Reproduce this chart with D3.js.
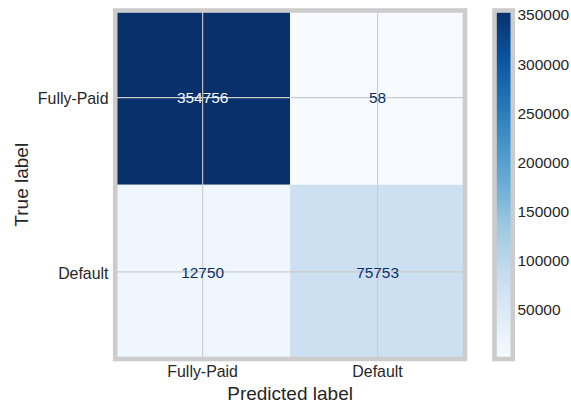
<!DOCTYPE html>
<html>
<head>
<meta charset="utf-8">
<script src="https://cdn.jsdelivr.net/npm/d3@7"></script>
<style>
  html, body { margin: 0; padding: 0; background: #ffffff; }
  svg { display: block; }
  text { font-family: "Liberation Sans", Arial, sans-serif; }
</style>
</head>
<body>
<div id="chart"></div>
<script>
// ---- data ----
const classes = ["Fully-Paid", "Default"];
const rowFullyPaid = [354756, 58];
const rowDefault = [12750, 75753];
const colorbarTicks = [50000, 100000, 150000, 200000, 250000, 300000, 350000];
const bluesStops = ["#f7fbff", "#deebf7", "#c6dbef", "#9ecae1", "#6baed6", "#4292c6", "#2171b5", "#08519c", "#08306b"];
const xTitle = "Predicted label";
const yTitle = "True label";

// ---- layout ----
const W = 571, H = 406;
const ax = { x0: 115.2, x1: 465, y0: 10.5, y1: 359 };
const cb = { x0: 494.5, x1: 512.8, y0: 10.5, y1: 359 };
const frameColor = "#cccccc";
const textColor = "#262626";

const rows = [rowFullyPaid, rowDefault];
const cells = [];
rows.forEach((r, i) => r.forEach((v, j) => cells.push({ t: classes[i], p: classes[j], v })));

const allVals = cells.map(d => d.v);
const vmin = d3.min(allVals), vmax = d3.max(allVals);

const tDomain = bluesStops.map((_, i) => i / (bluesStops.length - 1));
const cmapT = d3.scaleLinear().domain(tDomain).range(bluesStops).interpolate(d3.interpolateRgb);
const color = v => cmapT((v - vmin) / (vmax - vmin));

const svg = d3.select("#chart").append("svg").attr("width", W).attr("height", H);
svg.append("rect").attr("width", W).attr("height", H).attr("fill", "#fff");

const x = d3.scaleBand().domain(classes).range([ax.x0, ax.x1]);
const y = d3.scaleBand().domain(classes).range([ax.y0, ax.y1]);

// cells
svg.append("g").selectAll("rect").data(cells).join("rect")
  .attr("x", d => x(d.p)).attr("y", d => y(d.t))
  .attr("width", x.bandwidth()).attr("height", y.bandwidth())
  .attr("fill", d => color(d.v));

// gridlines
const grid = svg.append("g").attr("stroke", frameColor).attr("stroke-width", 1.1);
classes.forEach(c => {
  const cx = x(c) + x.bandwidth() / 2;
  grid.append("line").attr("x1", cx).attr("x2", cx).attr("y1", ax.y0).attr("y2", ax.y1);
  const cy = y(c) + y.bandwidth() / 2;
  grid.append("line").attr("x1", ax.x0).attr("x2", ax.x1).attr("y1", cy).attr("y2", cy);
});

// cell text
const thresh = (vmax + vmin) / 2;
svg.append("g").selectAll("text").data(cells).join("text")
  .attr("x", d => x(d.p) + x.bandwidth() / 2)
  .attr("y", d => y(d.t) + y.bandwidth() / 2 + 5.7)
  .attr("text-anchor", "middle")
  .attr("font-size", 15.4)
  .attr("fill", d => d.v < thresh ? bluesStops[bluesStops.length - 1] : bluesStops[0])
  .text(d => d.v);

// frame
svg.append("rect").attr("x", ax.x0).attr("y", ax.y0)
  .attr("width", ax.x1 - ax.x0).attr("height", ax.y1 - ax.y0)
  .attr("fill", "none").attr("stroke", frameColor).attr("stroke-width", 4.6);

// tick labels
svg.append("g").selectAll("text").data(classes).join("text")
  .attr("x", 108.5).attr("y", d => y(d) + y.bandwidth() / 2 + 6.7)
  .attr("text-anchor", "end").attr("font-size", 15.9).attr("fill", textColor)
  .text(d => d);
svg.append("g").selectAll("text").data(classes).join("text")
  .attr("x", d => x(d) + x.bandwidth() / 2).attr("y", 376.8)
  .attr("text-anchor", "middle").attr("font-size", 15.9).attr("fill", textColor)
  .text(d => d);

// axis titles
svg.append("text").attr("x", (ax.x0 + ax.x1) / 2).attr("y", 400)
  .attr("text-anchor", "middle").attr("font-size", 19).attr("fill", textColor).text(xTitle);
svg.append("text")
  .attr("transform", `translate(27.5,${(ax.y0 + ax.y1) / 2}) rotate(-90)`)
  .attr("text-anchor", "middle").attr("font-size", 19).attr("fill", textColor).text(yTitle);

// colorbar
const defs = svg.append("defs");
const grad = defs.append("linearGradient").attr("id", "cbgrad")
  .attr("x1", 0).attr("x2", 0).attr("y1", 1).attr("y2", 0);
bluesStops.forEach((c, i) => grad.append("stop").attr("offset", tDomain[i]).attr("stop-color", c));
svg.append("rect").attr("x", cb.x0).attr("y", cb.y0)
  .attr("width", cb.x1 - cb.x0).attr("height", cb.y1 - cb.y0)
  .attr("fill", "url(#cbgrad)");
svg.append("rect").attr("x", cb.x0).attr("y", cb.y0)
  .attr("width", cb.x1 - cb.x0).attr("height", cb.y1 - cb.y0)
  .attr("fill", "none").attr("stroke", frameColor).attr("stroke-width", 4.6);

const cy = d3.scaleLinear().domain([vmin, vmax]).range([cb.y1, cb.y0]);
svg.append("g").selectAll("text").data(colorbarTicks).join("text")
  .attr("x", 517.5).attr("y", d => cy(d) + 5.3)
  .attr("font-size", 15.5).attr("fill", textColor)
  .text(d => d);
</script>
</body>
</html>
